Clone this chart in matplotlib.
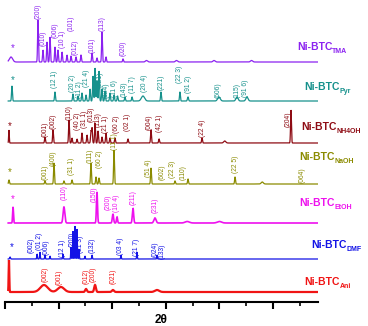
import numpy as np
import matplotlib
matplotlib.use('Agg')
import matplotlib.pyplot as plt
from matplotlib.ticker import MultipleLocator

plt.rcParams['font.family'] = ['Liberation Sans', 'DejaVu Sans']

# 2theta window of the scans
X0, X1 = 5.3, 34.2

# ---- peaks (2theta, height a.u., width), per sample
tma_pk = [5.56, 8.08, 8.54, 8.92, 9.20, 9.66, 9.94, 10.32, 10.78, 11.16, 11.62, 12.09, 13.12, 13.58, 14.05, 14.42, 16.01, 18.2, 21.0, 24.5, 28.0]
tma_h  = [5, 42, 12, 20, 25, 15, 12, 10, 7, 6, 5, 7, 9, 4, 30, 5, 3, 1.5, 1.5, 1.5, 1.5]
tma_w  = [0.15, 0.04, 0.04, 0.04, 0.04, 0.04, 0.04, 0.04, 0.04, 0.04, 0.04, 0.04, 0.04, 0.04, 0.04, 0.04, 0.04, 0.1, 0.1, 0.1, 0.1]

pyr_pk = [5.65, 9.66, 11.34, 11.81, 12.18, 12.56, 12.93, 13.21, 13.40, 13.58, 13.77, 14.05, 14.33, 14.79, 15.17, 15.5, 16.19, 16.85, 17.87, 19.55, 21.32, 22.07, 24.96, 26.64, 27.57]
pyr_h  = [15, 9, 7, 5, 8, 6, 12, 25, 33, 20, 30, 12, 10, 8, 6, 5, 4, 4, 5, 9, 9, 4, 4, 4, 4]
pyr_w  = [0.04, 0.04, 0.04, 0.04, 0.04, 0.04, 0.04, 0.04, 0.04, 0.04, 0.04, 0.04, 0.04, 0.04, 0.04, 0.04, 0.04, 0.04, 0.15, 0.04, 0.04, 0.05, 0.12, 0.1, 0.1]

nh4_pk = [5.37, 8.73, 9.48, 10.97, 11.25, 11.72, 12.18, 12.65, 13.02, 13.12, 13.40, 13.68, 14.05, 14.42, 14.79, 15.26, 16.47, 18.62, 19.37, 23.38, 25.5, 31.68]
nh4_h  = [13, 6, 13, 23, 5, 4, 10, 8, 12, 15, 20, 12, 6, 10, 5, 5, 4, 13, 4, 5, 2, 33]
nh4_w  = [0.03, 0.04, 0.04, 0.04, 0.04, 0.04, 0.04, 0.04, 0.04, 0.04, 0.04, 0.04, 0.04, 0.04, 0.04, 0.04, 0.04, 0.04, 0.04, 0.04, 0.1, 0.04]

naoh_pk = [5.37, 8.73, 9.57, 10.50, 11.25, 13.02, 13.49, 13.77, 15.17, 18.62, 20.86, 22.07, 26.46, 29.0]
naoh_h  = [4, 3, 21, 3, 4, 21, 7, 6, 34, 16, 3, 5, 7, 2]
naoh_w  = [0.04, 0.04, 0.04, 0.04, 0.04, 0.04, 0.04, 0.04, 0.04, 0.04, 0.04, 0.04, 0.04, 0.1]

etoh_pk = [5.75, 10.50, 13.58, 15.07, 15.45, 16.94, 18.99, 22.0, 25.0]
etoh_h  = [16, 16, 31, 9, 6, 15, 5, 1.5, 1.5]
etoh_w  = [0.04, 0.08, 0.05, 0.06, 0.05, 0.06, 0.1, 0.2, 0.2]

dmf_pk = [5.47, 7.99, 8.26, 8.73, 9.20, 10.41, 11.16, 11.34, 11.53, 11.72, 11.90, 12.46, 13.12, 15.82, 17.31, 19.18]
dmf_h  = [2, 5, 7, 4, 3, 5, 12, 28, 33, 30, 10, 3, 4, 4, 7, 4]
dmf_w  = [0.04, 0.03, 0.03, 0.03, 0.03, 0.03, 0.03, 0.03, 0.03, 0.03, 0.03, 0.03, 0.03, 0.03, 0.03, 0.03]

ani_pk = [5.37, 8.64, 10.22, 12.56, 13.40, 15.07, 19.18]
ani_h  = [32, 7, 5, 3, 7, 2, 2]
ani_w  = [0.03, 0.35, 0.3, 0.08, 0.08, 0.1, 0.2]

# ---- Miller index labels: text, 2theta, bottom of the text (a.u.)
tma_lbl   = ['(200)', '(010)', '(006)', '(10 1)', '(101)', '(012)', '(101)', '(113)', '(020)']
tma_lx    = [8.08, 8.54, 9.66, 10.41, 11.16, 11.53, 13.12, 14.05, 16.01]
tma_ly    = [283, 256, 264, 254, 271, 247, 249, 271, 246]

pyr_lbl   = ['(12 1)', '(20 2)', '(11 2)', '(21 4)', '(221)', '(124)', '(11 6)', '(143)', '(11 7)', '(20 4)', '(221)', '(22 3)', '(91 2)', '(606)', '(115)', '(91 6)']
pyr_lx    = [9.66, 11.34, 11.98, 12.58, 13.86, 14.42, 15.17, 16.10, 16.85, 18.06, 19.55, 21.32, 22.16, 24.87, 26.64, 27.48]
pyr_ly    = [214, 210, 204, 215, 215, 204, 205, 205, 209, 210, 212, 219, 209, 204, 204, 205]

nh4_lbl   = ['(001)', '(002)', '(110)', '(40 2)', '(31 1)', '(013)', '(113)', '(21 1)', '(60 2)', '(02 1)', '(004)', '(42 1)', '(22 4)', '(204)']
nh4_lx    = [8.73, 9.48, 10.97, 11.72, 12.46, 13.02, 13.68, 14.42, 15.36, 16.47, 18.43, 19.37, 23.38, 31.40]
nh4_ly    = [165, 173, 182, 172, 174, 180, 175, 169, 169, 171, 172, 170, 165, 175]

naoh_lbl  = ['(001)', '(400)', '(31 1)', '(111)', '(60 2)', '(11 1)', '(51 4)', '(602)', '(22 3)', '(110)', '(22 5)', '(064)']
naoh_lx   = [8.73, 9.48, 11.25, 12.93, 13.86, 15.26, 18.43, 19.65, 20.67, 21.60, 26.46, 32.71]
naoh_ly   = [122, 136, 127, 139, 134, 152, 125, 122, 124, 122, 129, 119]

etoh_lbl  = ['(110)', '(150)', '(200)', '(10 4)', '(211)', '(231)']
etoh_lx   = [10.50, 13.31, 14.62, 15.38, 16.94, 18.99]
etoh_ly   = [102, 100, 92, 90, 97, 89]

dmf_lbl   = ['(002)', '(01 2)', '(006)', '(12 1)', '(200)', '(21 3)', '(132)', '(03 4)', '(21 7)', '(024)', '(133)']
dmf_lx    = [7.43, 8.18, 8.82, 10.41, 11.25, 12.00, 13.12, 15.82, 17.31, 18.99, 19.65]
dmf_ly    = [49, 52, 47, 45, 55, 49, 49, 47, 46, 45, 43]

ani_lbl   = ['(002)', '(001)', '(012)', '(200)', '(021)']
ani_lx    = [8.73, 10.04, 12.56, 13.21, 15.07]
ani_ly    = [20, 17, 18, 20, 18]

# ---- sample names, baselines, colours
names    = ['TMA', 'Pyr', 'NH4OH', 'NaOH', 'EtOH', 'DMF', 'Ani']
offsets  = [240, 201, 159, 118, 79, 43, 10]
colors   = ['#8B22F0', '#16918C', '#8E0C14', '#8B8B00', '#EE11EE', '#1212E6', '#F01414']
name_x   = [32.24, 32.89, 32.61, 32.43, 32.43, 33.54, 32.89]
name_y   = [255, 215, 175, 145, 99, 57, 20]
star_x   = [5.75, 5.75, 5.47, 5.47, 5.75, 5.65]
star_y   = [254, 222, 176, 130, 103, 55]

peaks  = [(tma_pk, tma_h, tma_w), (pyr_pk, pyr_h, pyr_w), (nh4_pk, nh4_h, nh4_w),
          (naoh_pk, naoh_h, naoh_w), (etoh_pk, etoh_h, etoh_w), (dmf_pk, dmf_h, dmf_w),
          (ani_pk, ani_h, ani_w)]
labels = [(tma_lbl, tma_lx, tma_ly), (pyr_lbl, pyr_lx, pyr_ly), (nh4_lbl, nh4_lx, nh4_ly),
          (naoh_lbl, naoh_lx, naoh_ly), (etoh_lbl, etoh_lx, etoh_ly), (dmf_lbl, dmf_lx, dmf_ly),
          (ani_lbl, ani_lx, ani_ly)]
lws = [0.9, 0.9, 0.9, 0.9, 1.2, 0.9, 1.6]

fig = plt.figure(figsize=(3.68, 3.26), dpi=100)
ax = fig.add_axes([5/368, 24/326, 313/368, 302/326])

tt = np.arange(X0, X1, 0.005)
for i, name in enumerate(names):
    pk, h, w = peaks[i]
    y = np.full_like(tt, offsets[i], dtype=float)
    for c, a, s in zip(pk, h, w):
        y += a * np.exp(-0.5 * ((tt - c) / s) ** 2)
    ax.plot(tt, y, color=colors[i], lw=lws[i], solid_joinstyle='miter')

    lbl, lx, ly = labels[i]
    for t, xx, yy in zip(lbl, lx, ly):
        ax.text(xx, yy, t, rotation=90, ha='center', va='bottom', fontsize=4.8,
                color=colors[i])

    tx = ax.text(name_x[i], name_y[i], 'Ni-BTC', ha='left', va='center', fontsize=7.5,
                 fontweight='bold', color=colors[i])
    ax.annotate(name, xy=(1.0, 0.05), xycoords=tx, ha='left', va='center', fontsize=5,
                fontweight='bold', color=colors[i])
    if i < len(star_x):
        ax.text(star_x[i], star_y[i], '*', ha='center', va='center', fontsize=7,
                color=colors[i])

ax.set_xlim(5, 34.2)
ax.set_ylim(0, 302)
for s in ['top', 'left', 'right']:
    ax.spines[s].set_visible(False)
ax.spines['bottom'].set_linewidth(1.5)
ax.xaxis.set_major_locator(MultipleLocator(5))
ax.xaxis.set_minor_locator(MultipleLocator(2.5))
ax.tick_params(axis='x', which='major', direction='out', length=5, width=1.5, labelbottom=False)
ax.tick_params(axis='x', which='minor', direction='out', length=3, width=1.2)
ax.set_yticks([])
ax.patch.set_alpha(0)

fig.text(161/368, 1 - 320/326, '2θ', ha='center', va='center', fontsize=8.5, fontweight='bold')

fig.savefig('out.png', dpi=100)
